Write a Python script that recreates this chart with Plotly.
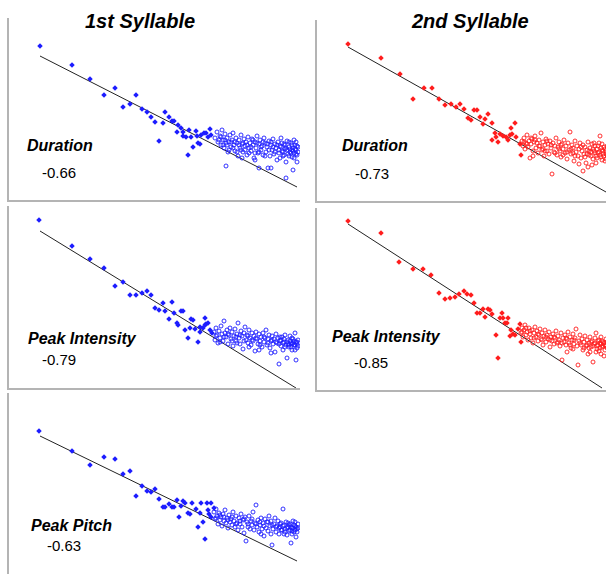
import plotly.graph_objects as go

# ---------------- data (arbitrary units; x = item rank, y = score) ----------------
titles = ["1st Syllable", "2nd Syllable"]
measures = ["Duration", "Duration", "Peak Intensity", "Peak Intensity", "Peak Pitch"]
r_values = ["-0.66", "-0.73", "-0.79", "-0.85", "-0.63"]

# regression line endpoints per panel
fit_x = [[31, 288], [31, 289], [31, 287], [31, 285], [31, 288]]
fit_y = [[144, 13], [154, 9], [157, 0], [166, 2], [138, 13]]

# panel 1: 1st syllable duration
dur1_hi = [(31,154),(63,135),(81,121),(106,112),(95,105),(127,105),(121,96),(114,93),(133,91),
           (138,88),(142,83),(156,88),(160,83),(163,79),(165,79),(146,78),(154,77),(169,75),
           (172,72),(168,68),(174,68),(180,70),(187,69),(177,63),(182,63),(150,59),(184,53),
           (179,45),(189,57),(192,65),(195,67),(197,67),(201,71),(199,63),(202,65),(191,56),
           (174,64),(188,64)]
dur1_lo = [(206,62),(208,68),(209,58),(211,64),(212,55),(213,70),(214,60),(215,52),(216,66),(217,57),
           (218,62),(219,48),(220,58),(221,65),(222,53),(223,60),(224,67),(225,55),(226,49),(227,62),
           (228,57),(229,44),(230,60),(231,52),(232,65),(233,56),(234,48),(235,61),(236,54),(237,58),
           (238,45),(239,63),(240,52),(241,57),(242,49),(243,61),(244,55),(245,42),(246,58),(247,52),
           (248,64),(249,47),(250,56),(251,60),(252,50),(253,54),(254,45),(255,62),(256,57),(257,48),
           (258,53),(259,32),(260,59),(261,44),(262,55),(263,50),(264,61),(265,46),(266,56),(267,52),
           (268,40),(269,58),(270,47),(271,54),(272,62),(273,49),(274,44),(275,56),(276,51),(277,38),
           (278,59),(279,46),(280,53),(281,48),(282,57),(283,43),(284,52),(285,47),(286,55),(287,50),
           (288,45),(289,53),(270,50),(272,53),(274,48),(276,55),(278,50),(280,44),(281,51),(282,47),
           (283,55),(284,49),(285,42),(286,51),(287,46),(288,54),(289,48),(287,58),(285,60),(283,50),
           (280,58),(277,52),(275,45),(273,57),(271,42),(268,55),(266,48),(264,53),(262,58),(260,50),
           (258,56),(256,44),(254,58),(252,53),(250,48),(248,57),(246,47),(244,60),(242,53),(240,47),
           (238,55),(236,50),(234,57),(232,50),(230,55),(228,48),(226,58),(224,52),(222,58),(220,50),
           (218,55),(216,60),(214,55),(212,63),(210,60),(217,34),(250,32),(262,32),(277,22),(284,30),
           (288,38),(246,40),(233,42)]

# panel 2: 2nd syllable duration
dur2_hi = [(31,157),(64,143),(83,127),(96,102),(107,113),(115,113),(122,102),(128,96),(134,97),
           (139,94),(143,97),(147,92),(157,91),(160,91),(151,83),(154,81),(163,84),(171,87),
           (168,82),(166,77),(175,78),(194,73),(198,78),(178,68),(183,67),(186,65),(189,64),
           (179,64),(175,61),(181,59),(191,61),(195,67),(199,64),(203,57),(204,46),(193,66)]
dur2_lo = [(205,60),(206,55),(207,63),(208,52),(209,58),(210,66),(211,54),(212,60),(213,43),(214,57),
           (215,62),(216,50),(217,59),(218,65),(219,53),(220,58),(221,48),(222,61),(223,55),(224,68),
           (225,51),(226,59),(227,45),(228,56),(229,62),(230,50),(231,57),(232,47),(233,60),(234,53),
           (235,27),(236,58),(237,49),(238,55),(239,63),(240,46),(241,54),(242,59),(243,50),(244,44),
           (245,57),(246,52),(247,61),(248,48),(249,55),(250,42),(251,58),(252,51),(253,69),(254,47),
           (255,56),(256,53),(257,40),(258,60),(259,49),(260,55),(261,45),(262,52),(263,58),(264,43),
           (265,50),(266,56),(267,47),(268,54),(269,38),(270,51),(271,59),(272,46),(273,53),(274,49),
           (275,57),(276,42),(277,50),(278,55),(279,45),(280,52),(281,48),(282,58),(283,65),(284,44),
           (285,51),(286,47),(287,54),(288,40),(289,50),(290,46),(291,53),(270,47),(272,50),(274,45),
           (276,52),(278,48),(280,43),(281,55),(282,49),(283,46),(284,53),(285,41),(286,50),(287,45),
           (288,52),(289,47),(290,55),(279,38),(275,36),(271,34),(266,30),(262,37),(258,45),(254,52),
           (250,49),(246,46),(242,52),(238,48),(234,56),(230,60),(226,52),(222,55),(218,61),(214,63),
           (210,57),(207,59),(216,45),(228,50),(244,56),(256,48),(264,54),(268,44),(277,58),(285,57),
           (289,42)]

# panel 3: 1st syllable peak intensity
int1_hi = [(30,168),(63,142),(81,129),(95,120),(114,106),(106,102),(121,93),(127,93),(133,95),
           (138,97),(142,93),(154,85),(163,86),(146,80),(150,78),(156,77),(165,75),(172,77),
           (174,77),(160,69),(169,63),(168,65),(182,69),(184,68),(176,58),(181,60),(186,59),
           (191,61),(194,60),(196,70),(197,64),(199,65),(196,63),(179,50),(189,46),(191,56),
           (201,58),(203,55)]
int1_lo = [(205,56),(206,48),(207,60),(208,53),(209,45),(210,57),(211,50),(212,62),(213,54),(214,47),
           (215,67),(216,55),(217,51),(218,58),(219,44),(220,53),(221,60),(222,49),(223,56),(224,42),
           (225,52),(226,59),(227,47),(228,54),(229,65),(230,50),(231,44),(232,57),(233,52),(234,39),
           (235,55),(236,61),(237,48),(238,53),(239,45),(240,58),(241,50),(242,43),(243,55),(244,47),
           (245,52),(246,37),(247,56),(248,49),(249,44),(250,54),(251,47),(252,51),(253,41),(254,55),
           (255,46),(256,50),(257,58),(258,43),(259,49),(260,53),(261,40),(262,47),(263,52),(264,44),
           (265,49),(266,36),(267,54),(268,45),(269,50),(270,24),(271,47),(272,42),(273,51),(274,38),
           (275,46),(276,53),(277,43),(278,30),(279,48),(280,41),(281,52),(282,45),(283,38),(284,49),
           (285,43),(286,55),(287,28),(288,46),(289,42),(270,44),(272,48),(274,45),(276,41),(278,46),
           (280,43),(281,47),(282,41),(283,44),(284,45),(285,47),(286,43),(287,46),(288,44),(289,48),
           (288,40),(286,38),(283,50),(279,44),(275,49),(271,51),(267,46),(263,48),(259,45),(255,51),
           (251,43),(247,50),(243,48),(239,52),(235,47),(231,53),(227,51),(223,47),(219,54),(215,51),
           (211,46),(207,52),(262,35),(250,38),(240,41),(228,45)]

# panel 4: 2nd syllable peak intensity
int2_hi = [(31,169),(64,157),(82,128),(96,121),(106,121),(114,115),(122,97),(128,91),(133,92),
           (138,93),(142,96),(147,99),(150,96),(154,95),(157,87),(160,77),(163,77),(166,81),
           (171,81),(173,80),(168,73),(175,76),(185,77),(183,72),(186,72),(191,72),(188,67),
           (190,67),(194,60),(196,56),(198,55),(193,54),(201,61),(203,66),(179,55),(181,32),
           (204,48)]
int2_lo = [(204,57),(205,62),(206,53),(207,60),(208,65),(209,55),(210,58),(211,50),(212,62),(213,56),
           (214,52),(215,60),(216,47),(217,57),(218,63),(219,53),(220,59),(221,49),(222,55),(223,61),
           (224,51),(225,57),(226,45),(227,54),(228,60),(229,48),(230,55),(231,51),(232,58),(233,43),
           (234,53),(235,49),(236,56),(237,46),(238,52),(239,59),(240,47),(241,54),(242,50),(243,44),
           (244,57),(245,30),(246,52),(247,48),(248,55),(249,45),(250,51),(251,58),(252,47),(253,53),
           (254,42),(255,50),(256,56),(257,46),(258,52),(259,61),(260,44),(261,25),(262,49),(263,55),
           (264,45),(265,51),(266,40),(267,48),(268,54),(269,44),(270,50),(271,36),(272,47),(273,53),
           (274,43),(275,49),(276,28),(277,46),(278,52),(279,57),(280,44),(281,49),(282,39),(283,47),
           (284,53),(285,43),(286,48),(287,34),(288,45),(289,51),(290,42),(291,47),(270,45),(272,42),
           (274,48),(276,44),(278,47),(280,41),(281,45),(282,50),(283,42),(284,46),(285,49),(286,44),
           (287,47),(288,40),(289,44),(290,48),(291,43),(284,36),(279,38),(273,38),(267,42),(263,47),
           (257,50),(253,45),(249,52),(245,47),(241,48),(237,53),(233,50),(229,53),(225,50),(221,56),
           (217,52),(213,59),(209,62),(205,58),(250,38),(256,41)]

# panel 5: 1st syllable peak pitch
pitch1_hi = [(30,143),(63,123),(81,109),(95,117),(106,115),(114,100),(121,103),(127,78),(133,88),
             (138,83),(142,82),(146,85),(150,75),(154,67),(156,67),(160,70),(163,67),(165,67),
             (168,74),(170,57),(172,68),(174,73),(176,71),(179,61),(181,60),(183,71),(187,65),
             (191,61),(192,71),(198,71),(202,71),(189,47),(194,52),(196,35),(199,64),(200,60),
             (202,57),(205,66)]
pitch1_lo = [(205,62),(206,55),(207,65),(208,58),(209,50),(210,61),(211,54),(212,57),(213,48),(214,60),
             (215,53),(216,64),(217,51),(218,56),(219,46),(220,59),(221,52),(222,55),(223,49),(224,62),
             (225,53),(226,47),(227,58),(228,51),(229,44),(230,56),(231,50),(232,60),(233,47),(234,54),
             (235,41),(236,57),(237,33),(238,52),(239,47),(240,58),(241,45),(242,53),(243,49),(244,62),
             (245,44),(246,51),(247,69),(248,47),(249,54),(250,42),(251,49),(252,56),(253,45),(254,51),
             (255,38),(256,55),(257,46),(258,52),(259,43),(260,58),(261,48),(262,53),(263,29),(264,45),
             (265,50),(266,56),(267,42),(268,48),(269,53),(270,40),(271,47),(272,51),(273,44),(274,65),
             (275,49),(276,45),(277,52),(278,39),(279,47),(280,43),(281,50),(282,31),(283,46),(284,53),
             (285,42),(286,48),(287,37),(288,45),(289,50),(270,46),(272,44),(274,48),(276,42),(278,46),
             (280,49),(281,44),(282,47),(283,43),(284,46),(285,49),(286,44),(287,47),(288,42),(289,46),
             (286,52),(283,40),(279,51),(275,40),(271,50),(267,47),(263,49),(259,52),(255,48),(251,52),
             (247,50),(243,55),(239,50),(235,55),(231,53),(227,50),(223,57),(219,54),(215,57),(211,59),
             (207,56),(262,40),(252,40)]

hi_sets = [dur1_hi, dur2_hi, int1_hi, int2_hi, pitch1_hi]
lo_sets = [dur1_lo, dur2_lo, int1_lo, int2_lo, pitch1_lo]

# ---------------- layout (body margin removed via post_script) ----------------
W, H = 606, 574
BLUE = "rgb(28,28,255)"
RED = "rgb(255,28,28)"
colors = [BLUE, RED, BLUE, RED, BLUE]


def px(xv):
    return xv / W


def py(yv):
    return 1 - yv / H


# panel boxes in window px: left, right, top, bottom
boxes = [(9, 300, 18, 200), (317, 606, 20, 201),
         (9, 300, 206, 388), (317, 606, 208, 390),
         (9, 300, 393, 574)]
show_bottom = [True, True, True, True, False]

label_pos = [(25, 145), (340, 145), (26, 338), (330, 336), (29, 525)]
value_pos = [(40, 172), (353, 173), (40, 359), (352, 362), (45, 545)]
title_pos = [(140, 21), (470, 21)]

fig = go.Figure()
layout = dict(width=W, height=H, margin=dict(l=0, r=0, t=0, b=0),
              paper_bgcolor="white", plot_bgcolor="white", showlegend=False)

for i, (l, r, t, b) in enumerate(boxes):
    n = "" if i == 0 else str(i + 1)
    xa, ya = "x" + n, "y" + n
    hx = [p[0] for p in hi_sets[i]]
    hy = [p[1] for p in hi_sets[i]]
    lx = [p[0] for p in lo_sets[i]]
    ly = [p[1] for p in lo_sets[i]]
    fig.add_trace(go.Scatter(x=fit_x[i], y=fit_y[i], mode="lines",
                             line=dict(color="#222222", width=1), xaxis=xa, yaxis=ya))
    fig.add_trace(go.Scatter(x=lx, y=ly, mode="markers",
                             marker=dict(symbol="circle-open", size=4, color=colors[i],
                                         line=dict(width=0.9, color=colors[i])),
                             xaxis=xa, yaxis=ya))
    fig.add_trace(go.Scatter(x=hx, y=hy, mode="markers",
                             marker=dict(symbol="diamond", size=4.2, color=colors[i]),
                             xaxis=xa, yaxis=ya))
    layout["xaxis" + n] = dict(domain=[px(l), min(px(r), 1)], range=[0, r - l], anchor=ya,
                               showline=show_bottom[i], linecolor="#b4b4b4", linewidth=1.5,
                               showgrid=False, zeroline=False, showticklabels=False, ticks="",
                               fixedrange=True)
    layout["yaxis" + n] = dict(domain=[max(py(b), 0), py(t)], range=[0, b - t], anchor=xa,
                               showline=True, linecolor="#b4b4b4", linewidth=1.5,
                               showgrid=False, zeroline=False, showticklabels=False, ticks="",
                               fixedrange=True)

FONT = "Liberation Sans, Arial, sans-serif"
ann = []
for i in range(5):
    lx, ly = label_pos[i]
    ann.append(dict(text="<b><i>" + measures[i] + "</i></b>", x=px(lx), y=py(ly),
                    xref="paper", yref="paper", xanchor="left", yanchor="middle",
                    showarrow=False, font=dict(family=FONT, size=16, color="black")))
    vx, vy = value_pos[i]
    ann.append(dict(text=r_values[i], x=px(vx), y=py(vy),
                    xref="paper", yref="paper", xanchor="left", yanchor="middle",
                    showarrow=False, font=dict(family=FONT, size=15, color="black")))
for j in range(2):
    tx, ty = title_pos[j]
    ann.append(dict(text="<b><i>" + titles[j] + "</i></b>", x=px(tx), y=py(ty),
                    xref="paper", yref="paper", xanchor="center", yanchor="middle",
                    showarrow=False, font=dict(family=FONT, size=20, color="black")))
layout["annotations"] = ann

fig.update_layout(**layout)
fig.write_html("out.html", config={"displayModeBar": False},
               post_script="document.body.style.margin='0px';document.body.style.overflow='hidden';")
